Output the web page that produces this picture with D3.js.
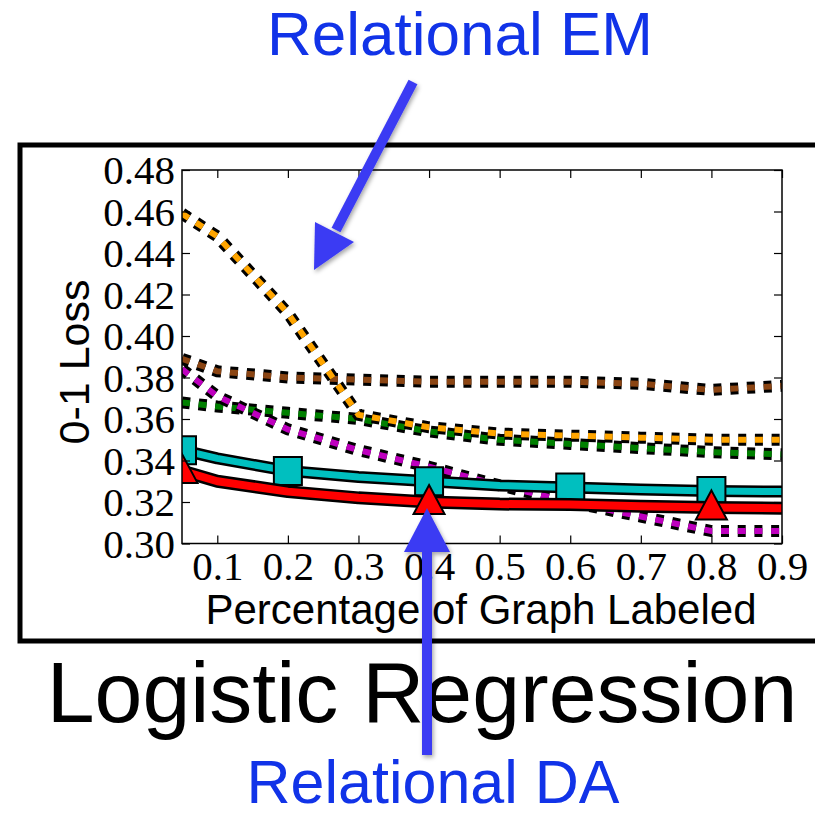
<!DOCTYPE html>
<html><head><meta charset="utf-8">
<script src="https://cdn.jsdelivr.net/npm/d3@7"></script>
<style>body{margin:0;background:#fff}svg{display:block}</style>
</head><body>
<svg id="c" width="815" height="817"></svg>
<script>
const xValues = [0.05, 0.1, 0.2, 0.3, 0.4, 0.5, 0.6, 0.7, 0.8, 0.9];
const orangeEM = [0.459, 0.448, 0.411, 0.362, 0.356, 0.353, 0.352, 0.351, 0.350, 0.350];
const brownSeries = [0.389, 0.383, 0.380, 0.379, 0.378, 0.378, 0.378, 0.377, 0.374, 0.376];
const greenSeries = [0.368, 0.366, 0.363, 0.360, 0.354, 0.350, 0.348, 0.346, 0.344, 0.343];
const magentaSeries = [0.384, 0.371, 0.355, 0.345, 0.337, 0.328, 0.320, 0.313, 0.306, 0.306];
const cyanSeries = [0.345, 0.341, 0.335, 0.332, 0.330, 0.328, 0.327, 0.326, 0.3253, 0.325];
const redDA = [0.335, 0.330, 0.325, 0.322, 0.320, 0.319, 0.3188, 0.318, 0.3174, 0.317];
const cyanMarkerX = [0.05, 0.2, 0.4, 0.6, 0.8];
const redMarkerX = [0.05, 0.4, 0.8];
const xTicks = [0.1, 0.2, 0.3, 0.4, 0.5, 0.6, 0.7, 0.8, 0.9];
const yTicks = [0.30, 0.32, 0.34, 0.36, 0.38, 0.40, 0.42, 0.44, 0.46, 0.48];
const chartTitle = "Logistic Regression";
const xLabel = "Percentage of Graph Labeled";
const yLabel = "0-1 Loss";
const emLabel = "Relational EM";
const daLabel = "Relational DA";

const svg = d3.select("#c");
const defs = svg.append("defs");
defs.append("clipPath").attr("id", "plotclip").append("rect")
  .attr("x", 182).attr("y", 170).attr("width", 600).attr("height", 373.5);
const flt = defs.append("filter").attr("id", "shadow").attr("x", "-50%").attr("y", "-50%").attr("width", "200%").attr("height", "200%");
flt.append("feDropShadow").attr("dx", 1.5).attr("dy", 2.5).attr("stdDeviation", 2).attr("flood-color", "#000").attr("flood-opacity", 0.35);

// outer box
svg.append("rect").attr("x", 20).attr("y", 145).attr("width", 900).attr("height", 496)
  .attr("fill", "none").attr("stroke", "#000").attr("stroke-width", 5);

const x = d3.scaleLinear().domain([0.05, 0.9]).range([182, 782]);
const y = d3.scaleLinear().domain([0.30, 0.48]).range([543.5, 170]);

const serif = "'Liberation Serif', 'Times New Roman', serif";
const sans = "'Liberation Sans', Arial, Helvetica, sans-serif";

const line = d3.line().x(d => x(d[0])).y(d => y(d[1]));
const plot = svg.append("g").attr("clip-path", "url(#plotclip)");

function dotted(vals, color) {
  const pts = xValues.map((v, i) => [v, vals[i]]);
  plot.append("path").attr("d", line(pts)).attr("fill", "none").attr("stroke", "#000")
    .attr("stroke-width", 12).attr("stroke-dasharray", "8,8.7");
  plot.append("path").attr("d", line(pts)).attr("fill", "none").attr("stroke", color)
    .attr("stroke-width", 6).attr("stroke-dasharray", "8,8.7");
}
dotted(brownSeries, "#8B4513");
dotted(greenSeries, "#008000");
dotted(magentaSeries, "#BF00BF");
dotted(orangeEM, "#FFA500");

function solid(vals, color, wOuter, wInner) {
  const pts = xValues.map((v, i) => [v, vals[i]]);
  plot.append("path").attr("d", line(pts)).attr("fill", "none").attr("stroke", "#000")
    .attr("stroke-width", wOuter).attr("stroke-linejoin", "round");
  plot.append("path").attr("d", line(pts)).attr("fill", "none").attr("stroke", color)
    .attr("stroke-width", wInner).attr("stroke-linejoin", "round");
}
solid(cyanSeries, "#00BFBF", 12, 7);
const sq = d3.symbol().type(d3.symbolSquare).size(28 * 28);
plot.selectAll(".sq").data(cyanMarkerX).enter().append("path")
  .attr("d", sq)
  .attr("transform", d => `translate(${x(d)},${y(cyanSeries[xValues.indexOf(d)])})`)
  .attr("fill", "#00BFBF").attr("stroke", "#000").attr("stroke-width", 2);
solid(redDA, "#FF0000", 13, 8);
plot.selectAll(".tri").data(redMarkerX).enter().append("path")
  .attr("d", "M0,-17L15.5,12L-15.5,12Z")
  .attr("transform", d => `translate(${x(d)},${y(redDA[xValues.indexOf(d)])})`)
  .attr("fill", "#FF0000").attr("stroke", "#000").attr("stroke-width", 2);

// axes
function styleAxis(g) {
  g.select(".domain").remove();
  g.selectAll(".tick line").attr("stroke", "#000").attr("stroke-width", 1.2);
}
const axB = svg.append("g").attr("transform", "translate(0,543.5)")
  .call(d3.axisBottom(x).tickValues(xTicks).tickSize(-8).tickFormat(d3.format(".1f")));
styleAxis(axB);
axB.selectAll("text").attr("y", 36).attr("dy", null)
  .attr("font-family", serif).attr("font-size", 41).attr("fill", "#000");
const axT = svg.append("g").attr("transform", "translate(0,170)")
  .call(d3.axisTop(x).tickValues(xTicks).tickSize(-8).tickFormat(""));
styleAxis(axT);
const axL = svg.append("g").attr("transform", "translate(182,0)")
  .call(d3.axisLeft(y).tickValues(yTicks).tickSize(-8).tickFormat(d3.format(".2f")));
styleAxis(axL);
axL.selectAll("text").attr("x", -7).attr("dy", "0.33em")
  .attr("font-family", serif).attr("font-size", 41).attr("fill", "#000");
const axR = svg.append("g").attr("transform", "translate(782,0)")
  .call(d3.axisRight(y).tickValues(yTicks).tickSize(-8).tickFormat(""));
styleAxis(axR);

svg.append("rect").attr("x", 182).attr("y", 170).attr("width", 600).attr("height", 373.5)
  .attr("fill", "none").attr("stroke", "#000").attr("stroke-width", 1.5);

// labels
svg.append("text").attr("x", 481).attr("y", 624).attr("text-anchor", "middle")
  .attr("font-family", sans).attr("font-size", 42).attr("fill", "#000").text(xLabel);
svg.append("text").attr("transform", "translate(89,362) rotate(-90)").attr("text-anchor", "middle")
  .attr("font-family", sans).attr("font-size", 43).attr("fill", "#000").text(yLabel);
svg.append("text").attr("x", 422).attr("y", 722).attr("text-anchor", "middle")
  .attr("font-family", sans).attr("font-size", 86).attr("fill", "#000").text(chartTitle);

// annotations
const blueText = "#1133e8";
const blueArrow = "#3b3bf3";
svg.append("text").attr("x", 460).attr("y", 55).attr("text-anchor", "middle")
  .attr("font-family", sans).attr("font-size", 62).attr("fill", blueText).text(emLabel);
svg.append("text").attr("x", 433).attr("y", 803).attr("text-anchor", "middle")
  .attr("font-family", sans).attr("font-size", 61).attr("fill", blueText).text(daLabel);

const arrows = svg.append("g").attr("filter", "url(#shadow)");
arrows.append("line").attr("x1", 413).attr("y1", 82).attr("x2", 336).attr("y2", 230)
  .attr("stroke", blueArrow).attr("stroke-width", 10);
arrows.append("path").attr("d", "M314,270L315,222L354,242Z").attr("fill", blueArrow);
arrows.append("line").attr("x1", 427).attr("y1", 755).attr("x2", 427).attr("y2", 550)
  .attr("stroke", blueArrow).attr("stroke-width", 10);
arrows.append("path").attr("d", "M427,508L450,552L404,552Z").attr("fill", blueArrow);
</script>
</body></html>
